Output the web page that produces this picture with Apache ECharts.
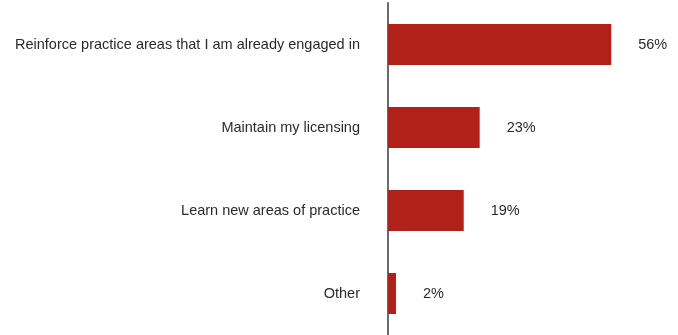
<!DOCTYPE html>
<html>
<head>
<meta charset="utf-8">
<script src="https://cdn.jsdelivr.net/npm/echarts@6/dist/echarts.min.js"></script>
<style>
  html, body { margin: 0; padding: 0; background: #fff; }
  #chart { width: 678px; height: 335px; }
</style>
</head>
<body>
<div id="chart"></div>
<script>
// Reasons for taking continuing education, share of respondents (%)
const categories = [
  'Reinforce practice areas that I am already engaged in',
  'Maintain my licensing',
  'Learn new areas of practice',
  'Other'
];
const shares = [56, 23, 19, 2];

const chart = echarts.init(document.getElementById('chart'), null, { renderer: 'canvas' });

chart.setOption({
  animation: false,
  grid: { left: 388, right: 11, top: 3, height: 336, containLabel: false },
  xAxis: {
    type: 'value',
    min: 0,
    max: 70,
    show: false
  },
  yAxis: {
    type: 'category',
    data: categories,
    inverse: true,
    axisLine: { show: true, lineStyle: { color: '#6b6b6b', width: 2 } },
    axisTick: { show: false },
    axisLabel: {
      margin: 28,
      color: '#2b2b2b',
      fontFamily: 'Liberation Sans, Arial, sans-serif',
      fontSize: 14.5
    }
  },
  series: [{
    type: 'bar',
    data: shares,
    barWidth: 41,
    itemStyle: { color: '#b2201a' },
    label: {
      show: true,
      position: 'right',
      distance: 27,
      formatter: '{c}%',
      color: '#2b2b2b',
      fontFamily: 'Liberation Sans, Arial, sans-serif',
      fontSize: 14.5
    }
  }]
});
</script>
</body>
</html>
